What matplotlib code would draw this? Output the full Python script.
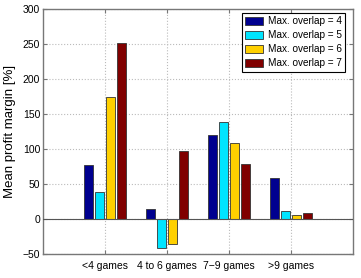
import matplotlib
matplotlib.use('Agg')
import matplotlib.pyplot as plt
import numpy as np

categories = ['<4 games', '4 to 6 games', '7\u22129 games', '>9 games']
series_names = ['Max. overlap = 4', 'Max. overlap = 5', 'Max. overlap = 6', 'Max. overlap = 7']
overlap4 = [77, 14, 120, 59]
overlap5 = [39, -41, 139, 11]
overlap6 = [174, -36, 109, 6]
overlap7 = [251, 97, 79, 9]
colors = ['#00008F', '#00E5FF', '#FFD000', '#800000']

plt.rcParams['font.family'] = ['Liberation Sans', 'DejaVu Sans']
fig = plt.figure(figsize=(3.61, 2.78), dpi=100)
ax = fig.add_axes([0.119, 0.086, 0.859, 0.882])

x = np.arange(1, len(categories) + 1)
pitch = 0.177
width = 0.145
for i, (vals, name) in enumerate(zip([overlap4, overlap5, overlap6, overlap7], series_names)):
    ax.bar(x + (i - 1.5) * pitch, vals, width, color=colors[i], edgecolor='#333333',
           linewidth=0.6, label=name, zorder=3)

ax.axhline(0, color='#555555', linewidth=0.8, zorder=4)
ax.set_xlim(0, 5)
ax.set_ylim(-50, 300)
ax.set_xticks(x)
ax.set_xticklabels(categories, fontsize=7.5)
ax.set_yticks(np.arange(-50, 301, 50))
ax.tick_params(axis='y', labelsize=7.5, pad=2)
ax.tick_params(axis='x', pad=5)
ax.tick_params(direction='in', top=True, right=True, length=3, color='#777777')
ax.grid(True, linestyle=':', color='#bbbbbb', linewidth=0.8, zorder=0)
for s in ax.spines.values():
    s.set_color('#777777')
    s.set_linewidth(1.0)
ax.set_ylabel('Mean profit margin [%]', fontsize=9.5, labelpad=5)

leg = ax.legend(loc='upper right', bbox_to_anchor=(0.975, 0.984), fontsize=7.2,
                fancybox=False, framealpha=1, edgecolor='black',
                handlelength=1.75, handleheight=0.8, borderpad=0.35,
                labelspacing=0.4, handletextpad=0.5, borderaxespad=0.0)
leg.get_frame().set_linewidth(0.8)

fig.savefig('out.png', dpi=100)
